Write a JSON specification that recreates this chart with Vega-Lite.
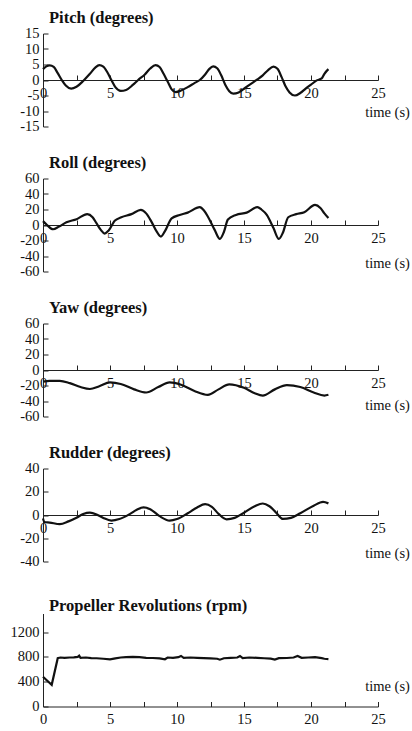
{
"$schema": "https://vega.github.io/schema/vega-lite/v6.json",
"padding": {"left": 0, "top": 9.5, "right": 0, "bottom": 0},
"background": "white",
"config": {
  "font": "Liberation Serif",
  "view": {"stroke": null},
  "axis": {"grid": false, "domainColor": "#222", "tickColor": "#222", "labelColor": "#111", "titleColor": "#111", "labelFont": "Liberation Serif", "labelFontSize": 14.5, "titleFont": "Liberation Serif", "titleFontSize": 14.5, "titleFontWeight": "normal", "tickSize": -5, "domainWidth": 1, "tickWidth": 1, "labelOverlap": false, "labelBound": false, "labelFlush": false, "labelExpr": "'' + datum.value"},
  "axisY": {"labelPadding": 9, "minExtent": 43, "maxExtent": 43},
  "axisX": {"labelPadding": 11},
  "title": {"font": "Liberation Serif", "fontSize": 16.5, "fontWeight": "bold", "color": "#111", "anchor": "start", "frame": "group", "baseline": "alphabetic", "offset": -1, "dx": 6}
},
"data": {"values": [
{"s":"p","t":0,"v":3.5},{"s":"p","t":0.25,"v":4.4},{"s":"p","t":0.5,"v":4.7},{"s":"p","t":0.8,"v":4.2},{"s":"p","t":1.1,"v":2.2},{"s":"p","t":1.4,"v":0},{"s":"p","t":1.7,"v":-1.8},{"s":"p","t":2.1,"v":-2.8},{"s":"p","t":2.5,"v":-2.2},{"s":"p","t":3.0,"v":-0.3},{"s":"p","t":3.5,"v":2.0},{"s":"p","t":3.9,"v":4.0},{"s":"p","t":4.2,"v":4.8},{"s":"p","t":4.5,"v":4.3},{"s":"p","t":4.8,"v":2.5},{"s":"p","t":5.1,"v":0},{"s":"p","t":5.4,"v":-2.3},{"s":"p","t":5.8,"v":-3.5},{"s":"p","t":6.2,"v":-3.2},{"s":"p","t":6.7,"v":-1.6},{"s":"p","t":7.1,"v":0},{"s":"p","t":7.6,"v":1.8},{"s":"p","t":8.0,"v":3.7},{"s":"p","t":8.4,"v":4.8},{"s":"p","t":8.7,"v":4.2},{"s":"p","t":9.0,"v":2.0},{"s":"p","t":9.3,"v":-0.5},{"s":"p","t":9.6,"v":-3.0},{"s":"p","t":9.9,"v":-3.9},{"s":"p","t":10.3,"v":-3.4},{"s":"p","t":10.8,"v":-2.3},{"s":"p","t":11.3,"v":-1.0},{"s":"p","t":11.7,"v":0},{"s":"p","t":12.1,"v":1.8},{"s":"p","t":12.4,"v":3.5},{"s":"p","t":12.7,"v":4.4},{"s":"p","t":13.0,"v":3.8},{"s":"p","t":13.3,"v":1.5},{"s":"p","t":13.6,"v":-1.5},{"s":"p","t":13.9,"v":-3.6},{"s":"p","t":14.2,"v":-4.4},{"s":"p","t":14.6,"v":-4.0},{"s":"p","t":15.1,"v":-2.5},{"s":"p","t":15.6,"v":-1.0},{"s":"p","t":16.0,"v":0.2},{"s":"p","t":16.4,"v":1.5},{"s":"p","t":16.8,"v":3.2},{"s":"p","t":17.2,"v":4.3},{"s":"p","t":17.5,"v":3.6},{"s":"p","t":17.8,"v":1.0},{"s":"p","t":18.1,"v":-2.0},{"s":"p","t":18.4,"v":-4.0},{"s":"p","t":18.8,"v":-5.0},{"s":"p","t":19.2,"v":-4.2},{"s":"p","t":19.6,"v":-2.8},{"s":"p","t":20.0,"v":-1.5},{"s":"p","t":20.4,"v":-0.2},{"s":"p","t":20.8,"v":0.5},{"s":"p","t":21.0,"v":2.0},{"s":"p","t":21.3,"v":3.5},
{"s":"r","t":0,"v":5},{"s":"r","t":0.3,"v":0},{"s":"r","t":0.75,"v":-5.5},{"s":"r","t":1.2,"v":-2},{"s":"r","t":1.75,"v":3.5},{"s":"r","t":2.5,"v":7.5},{"s":"r","t":3.3,"v":14},{"s":"r","t":3.7,"v":10},{"s":"r","t":4.0,"v":2},{"s":"r","t":4.3,"v":-6},{"s":"r","t":4.6,"v":-11},{"s":"r","t":4.9,"v":-7},{"s":"r","t":5.35,"v":5.5},{"s":"r","t":5.85,"v":10},{"s":"r","t":6.6,"v":14},{"s":"r","t":7.3,"v":19.5},{"s":"r","t":7.7,"v":15},{"s":"r","t":8.1,"v":4},{"s":"r","t":8.5,"v":-9},{"s":"r","t":8.8,"v":-15},{"s":"r","t":9.1,"v":-8},{"s":"r","t":9.6,"v":8.5},{"s":"r","t":10.2,"v":13},{"s":"r","t":10.8,"v":16},{"s":"r","t":11.7,"v":23},{"s":"r","t":12.0,"v":19},{"s":"r","t":12.3,"v":11},{"s":"r","t":12.8,"v":-6},{"s":"r","t":13.2,"v":-18},{"s":"r","t":13.5,"v":-9},{"s":"r","t":13.8,"v":7},{"s":"r","t":14.4,"v":13},{"s":"r","t":15.2,"v":16},{"s":"r","t":16.0,"v":23},{"s":"r","t":16.3,"v":20},{"s":"r","t":16.7,"v":13},{"s":"r","t":17.2,"v":-4},{"s":"r","t":17.6,"v":-18},{"s":"r","t":17.9,"v":-10},{"s":"r","t":18.3,"v":10},{"s":"r","t":18.9,"v":14},{"s":"r","t":19.5,"v":16.5},{"s":"r","t":20.3,"v":26},{"s":"r","t":20.7,"v":22},{"s":"r","t":21.0,"v":15},{"s":"r","t":21.3,"v":9},
{"s":"y","t":0,"v":-15},{"s":"y","t":0.5,"v":-14},{"s":"y","t":1.25,"v":-14},{"s":"y","t":2.0,"v":-17},{"s":"y","t":2.8,"v":-22},{"s":"y","t":3.5,"v":-24.5},{"s":"y","t":4.2,"v":-21},{"s":"y","t":5.0,"v":-16},{"s":"y","t":5.8,"v":-18},{"s":"y","t":6.8,"v":-25},{"s":"y","t":7.7,"v":-29},{"s":"y","t":8.6,"v":-22},{"s":"y","t":9.45,"v":-16},{"s":"y","t":10.3,"v":-19},{"s":"y","t":11.3,"v":-27},{"s":"y","t":12.3,"v":-32},{"s":"y","t":13.1,"v":-25},{"s":"y","t":13.9,"v":-18.5},{"s":"y","t":15.0,"v":-23},{"s":"y","t":15.8,"v":-30},{"s":"y","t":16.4,"v":-33},{"s":"y","t":17.3,"v":-25},{"s":"y","t":18.2,"v":-19.5},{"s":"y","t":19.2,"v":-22},{"s":"y","t":20.2,"v":-29},{"s":"y","t":21.0,"v":-33},{"s":"y","t":21.3,"v":-32},
{"s":"d","t":0,"v":-3},{"s":"d","t":0.1,"v":-6},{"s":"d","t":0.5,"v":-6.5},{"s":"d","t":1.25,"v":-7.9},{"s":"d","t":1.9,"v":-5.5},{"s":"d","t":2.5,"v":-2.3},{"s":"d","t":3.0,"v":0.8},{"s":"d","t":3.5,"v":2},{"s":"d","t":4.0,"v":0.5},{"s":"d","t":4.5,"v":-2.5},{"s":"d","t":5.1,"v":-4.8},{"s":"d","t":5.7,"v":-3.5},{"s":"d","t":6.5,"v":1},{"s":"d","t":7.0,"v":4.5},{"s":"d","t":7.5,"v":6.5},{"s":"d","t":8.0,"v":5},{"s":"d","t":8.7,"v":-1},{"s":"d","t":9.45,"v":-4.8},{"s":"d","t":10.0,"v":-3.5},{"s":"d","t":10.8,"v":1.5},{"s":"d","t":11.5,"v":6.5},{"s":"d","t":12.1,"v":9.3},{"s":"d","t":12.6,"v":7},{"s":"d","t":13.1,"v":1},{"s":"d","t":13.7,"v":-3.7},{"s":"d","t":14.3,"v":-2.5},{"s":"d","t":15.0,"v":2},{"s":"d","t":15.8,"v":7.5},{"s":"d","t":16.4,"v":9.9},{"s":"d","t":16.9,"v":7.5},{"s":"d","t":17.4,"v":2},{"s":"d","t":17.9,"v":-3.4},{"s":"d","t":18.5,"v":-2.5},{"s":"d","t":19.2,"v":1.5},{"s":"d","t":20.2,"v":8},{"s":"d","t":20.9,"v":11.3},{"s":"d","t":21.3,"v":10},
{"s":"m","t":0,"v":480},{"s":"m","t":0.3,"v":420},{"s":"m","t":0.65,"v":350},{"s":"m","t":1.1,"v":780},{"s":"m","t":1.3,"v":790},{"s":"m","t":1.6,"v":785},{"s":"m","t":2.0,"v":790},{"s":"m","t":2.3,"v":792},{"s":"m","t":2.6,"v":800},{"s":"m","t":2.7,"v":820},{"s":"m","t":2.8,"v":785},{"s":"m","t":3.2,"v":790},{"s":"m","t":3.6,"v":780},{"s":"m","t":4.0,"v":778},{"s":"m","t":4.5,"v":770},{"s":"m","t":5.0,"v":760},{"s":"m","t":5.4,"v":775},{"s":"m","t":5.8,"v":790},{"s":"m","t":6.2,"v":795},{"s":"m","t":6.7,"v":800},{"s":"m","t":7.2,"v":795},{"s":"m","t":7.7,"v":785},{"s":"m","t":8.2,"v":782},{"s":"m","t":8.7,"v":775},{"s":"m","t":9.1,"v":762},{"s":"m","t":9.3,"v":790},{"s":"m","t":9.7,"v":785},{"s":"m","t":10.1,"v":795},{"s":"m","t":10.3,"v":815},{"s":"m","t":10.5,"v":785},{"s":"m","t":11.0,"v":790},{"s":"m","t":11.5,"v":785},{"s":"m","t":12.0,"v":780},{"s":"m","t":12.5,"v":775},{"s":"m","t":13.0,"v":770},{"s":"m","t":13.2,"v":755},{"s":"m","t":13.5,"v":778},{"s":"m","t":14.0,"v":785},{"s":"m","t":14.5,"v":790},{"s":"m","t":14.7,"v":815},{"s":"m","t":14.9,"v":780},{"s":"m","t":15.4,"v":790},{"s":"m","t":16.0,"v":785},{"s":"m","t":16.5,"v":778},{"s":"m","t":17.0,"v":772},{"s":"m","t":17.3,"v":758},{"s":"m","t":17.6,"v":780},{"s":"m","t":18.2,"v":782},{"s":"m","t":18.7,"v":790},{"s":"m","t":19.0,"v":815},{"s":"m","t":19.3,"v":785},{"s":"m","t":19.8,"v":790},{"s":"m","t":20.3,"v":795},{"s":"m","t":20.8,"v":780},{"s":"m","t":21.0,"v":770},{"s":"m","t":21.3,"v":765}
]},
"bounds": "flush",
"spacing": 52,
"vconcat": [
{
  "title": "Pitch (degrees)",
  "width": 335, "height": 93,
  "transform": [{"filter": "datum.s === 'p'"}],
  "mark": {"type": "line", "color": "#111", "strokeWidth": 2.2, "interpolate": "monotone"},
  "encoding": {
    "x": {"field": "t", "type": "quantitative", "scale": {"domain": [0, 25], "nice": false}, "axis": {"title": "time (s)", "offset": -46.5, "values": [0,2.5,5,7.5,10,12.5,15,17.5,20,22.5,25], "labelExpr": "datum.value % 5 === 0 ? '' + datum.value : ''", "titleX": 344, "titleY": 32, "titleAlign": "center", "titleBaseline": "middle"}},
    "y": {"field": "v", "type": "quantitative", "scale": {"domain": [-15, 15], "nice": false}, "axis": {"title": null, "values": [-15,-10,-5,0,5,10,15]}}
  }
},
{
  "title": "Roll (degrees)",
  "width": 335, "height": 93,
  "transform": [{"filter": "datum.s === 'r'"}],
  "mark": {"type": "line", "color": "#111", "strokeWidth": 2.2, "interpolate": "monotone"},
  "encoding": {
    "x": {"field": "t", "type": "quantitative", "scale": {"domain": [0, 25], "nice": false}, "axis": {"title": "time (s)", "offset": -46.5, "values": [0,2.5,5,7.5,10,12.5,15,17.5,20,22.5,25], "labelExpr": "datum.value % 5 === 0 ? '' + datum.value : ''", "titleX": 344, "titleY": 38, "titleAlign": "center", "titleBaseline": "middle"}},
    "y": {"field": "v", "type": "quantitative", "scale": {"domain": [-60, 60], "nice": false}, "axis": {"title": null, "values": [-60,-40,-20,0,20,40,60]}}
  }
},
{
  "title": "Yaw (degrees)",
  "width": 335, "height": 93,
  "transform": [{"filter": "datum.s === 'y'"}],
  "mark": {"type": "line", "color": "#111", "strokeWidth": 2.2, "interpolate": "monotone"},
  "encoding": {
    "x": {"field": "t", "type": "quantitative", "scale": {"domain": [0, 25], "nice": false}, "axis": {"title": "time (s)", "offset": -46.5, "values": [0,2.5,5,7.5,10,12.5,15,17.5,20,22.5,25], "labelExpr": "datum.value % 5 === 0 ? '' + datum.value : ''", "titleX": 344, "titleY": 35, "titleAlign": "center", "titleBaseline": "middle"}},
    "y": {"field": "v", "type": "quantitative", "scale": {"domain": [-60, 60], "nice": false}, "axis": {"title": null, "values": [-60,-40,-20,0,20,40,60]}}
  }
},
{
  "title": "Rudder (degrees)",
  "width": 335, "height": 93,
  "transform": [{"filter": "datum.s === 'd'"}],
  "mark": {"type": "line", "color": "#111", "strokeWidth": 2.2, "interpolate": "monotone"},
  "encoding": {
    "x": {"field": "t", "type": "quantitative", "scale": {"domain": [0, 25], "nice": false}, "axis": {"title": "time (s)", "offset": -46.5, "values": [0,2.5,5,7.5,10,12.5,15,17.5,20,22.5,25], "labelExpr": "datum.value % 5 === 0 ? '' + datum.value : ''", "titleX": 344, "titleY": 38, "titleAlign": "center", "titleBaseline": "middle"}},
    "y": {"field": "v", "type": "quantitative", "scale": {"domain": [-40, 40], "nice": false}, "axis": {"title": null, "values": [-40,-20,0,20,40]}}
  }
},
{
  "title": "Propeller Revolutions (rpm)",
  "width": 335, "height": 93,
  "transform": [{"filter": "datum.s === 'm'"}],
  "mark": {"type": "line", "color": "#111", "strokeWidth": 2.2, "interpolate": "linear"},
  "encoding": {
    "x": {"field": "t", "type": "quantitative", "scale": {"domain": [0, 25], "nice": false}, "axis": {"title": "time (s)", "offset": 0, "values": [0,2.5,5,7.5,10,12.5,15,17.5,20,22.5,25], "labelExpr": "datum.value % 5 === 0 ? '' + datum.value : ''", "titleX": 344, "titleY": -20, "titleAlign": "center", "titleBaseline": "middle"}},
    "y": {"field": "v", "type": "quantitative", "scale": {"domain": [0, 1500], "nice": false}, "axis": {"title": null, "values": [0,400,800,1200]}}
  }
}
]
}
